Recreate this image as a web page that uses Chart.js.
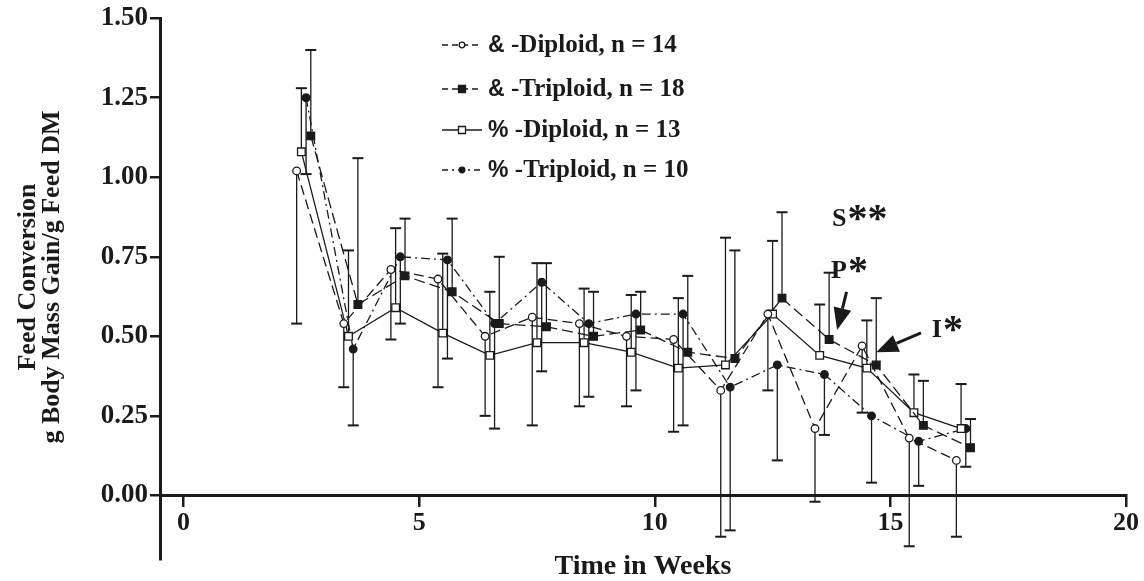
<!DOCTYPE html>
<html>
<head>
<meta charset="utf-8">
<script src="https://cdn.jsdelivr.net/npm/chart.js@4.4.0/dist/chart.umd.min.js"></script>
<style>
  html, body { margin: 0; padding: 0; background: #fff; }
</style>
</head>
<body>
<canvas id="chart" width="1144" height="581"></canvas>
<script>
'use strict';

// series labels (the & / % glyphs are what the original figure shows)
var seriesNames = ['& -Diploid, n = 14', '& -Triploid, n = 18', '% -Diploid, n = 13', '% -Triploid, n = 10'];

// time in weeks for each series (points are slightly staggered in the figure)
var weeksMaleDip = [2.4, 3.4, 4.4, 5.4, 6.4, 7.4, 8.4, 9.4, 10.4, 11.4, 12.4, 13.4, 14.4, 15.4, 16.4];
var weeksMaleTri = [2.7, 3.7, 4.7, 5.7, 6.7, 7.7, 8.7, 9.7, 10.7, 11.7, 12.7, 13.7, 14.7, 15.7, 16.7];
var weeksFemDip = [2.5, 3.5, 4.5, 5.5, 6.5, 7.5, 8.5, 9.5, 10.5, 11.5, 12.5, 13.5, 14.5, 15.5, 16.5];
var weeksFemTri = [2.6, 3.6, 4.6, 5.6, 6.6, 7.6, 8.6, 9.6, 10.6, 11.6, 12.6, 13.6, 14.6, 15.6, 16.6];

// feed conversion means
var maleDip = [1.02, 0.54, 0.71, 0.68, 0.50, 0.56, 0.54, 0.50, 0.49, 0.33, 0.57, 0.21, 0.47, 0.18, 0.11];
var maleTri = [1.13, 0.60, 0.69, 0.64, 0.54, 0.53, 0.50, 0.52, 0.45, 0.43, 0.62, 0.49, 0.41, 0.22, 0.15];
var femDip = [1.08, 0.50, 0.59, 0.51, 0.44, 0.48, 0.48, 0.45, 0.40, 0.41, 0.57, 0.44, 0.40, 0.26, 0.21];
var femTri = [1.25, 0.46, 0.75, 0.74, 0.54, 0.67, 0.54, 0.57, 0.57, 0.34, 0.41, 0.38, 0.25, 0.17, 0.21];

// one-sided error bars (circles drawn below, squares above)
var maleDipErr = [0.48, 0.20, 0.22, 0.34, 0.25, 0.34, 0.26, 0.22, 0.29, 0.46, 0.24, 0.23, 0.21, 0.34, 0.24];
var maleTriErr = [0.27, 0.46, 0.18, 0.23, 0.21, 0.20, 0.14, 0.12, 0.24, 0.34, 0.27, 0.21, 0.21, 0.14, 0.09];
var femDipErr = [0.20, 0.27, 0.25, 0.25, 0.20, 0.25, 0.17, 0.18, 0.22, 0.40, 0.23, 0.16, 0.15, 0.12, 0.14];
var femTriErr = [0.24, 0.24, 0.21, 0.31, 0.33, 0.28, 0.23, 0.24, 0.35, 0.45, 0.30, 0.19, 0.21, 0.14, 0.12];

// axis ticks
var xTicks = [0, 5, 10, 15, 20];
var yTicks = [0, 0.25, 0.5, 0.75, 1.0, 1.25, 1.5];

// significance notes: letter, stars, text anchor (weeks, value), arrow from -> to
var notes = [
  { letter: 'S', stars: '**', x: 13.76, y: 0.847, arrow: null },
  { letter: 'P', stars: '*', x: 13.74, y: 0.683, arrow: [14.07, 0.640, 13.87, 0.52] },
  { letter: 'I', stars: '*', x: 15.88, y: 0.497, arrow: [15.65, 0.511, 14.70, 0.45] }
];

var FONT = '"Liberation Serif", "Times New Roman", serif';
var INK = '#1a1a1a';

function points(xs, ys) {
  return xs.map(function (x, i) { return { x: x, y: ys[i] }; });
}

function makeSet(label, xs, ys, errs, dir, style, fill, dash, radius) {
  return {
    label: label,
    data: points(xs, ys),
    errors: errs,
    errDir: dir,
    borderColor: INK,
    borderWidth: 1.3,
    borderDash: dash,
    pointStyle: style,
    pointRadius: radius,
    pointBackgroundColor: fill,
    pointBorderColor: INK,
    pointBorderWidth: 1.3,
    tension: 0,
    fill: false
  };
}

var datasets = [
  makeSet(seriesNames[0], weeksMaleDip, maleDip, maleDipErr, -1, 'circle', '#fff', [10, 5], 3.8),
  makeSet(seriesNames[1], weeksMaleTri, maleTri, maleTriErr, 1, 'rect', INK, [11, 5], 5.4),
  makeSet(seriesNames[2], weeksFemDip, femDip, femDipErr, 1, 'rect', '#fff', [], 5.4),
  makeSet(seriesNames[3], weeksFemTri, femTri, femTriErr, -1, 'circle', INK, [9, 4, 2, 4], 3.8)
];

// error bars go under the markers
var errorBars = {
  id: 'errorBars',
  beforeDatasetsDraw: function (chart) {
    var ctx = chart.ctx;
    var xs = chart.scales.x;
    var ys = chart.scales.y;
    ctx.save();
    ctx.strokeStyle = INK;
    chart.data.datasets.forEach(function (ds) {
      ds.data.forEach(function (pt, i) {
        var px = xs.getPixelForValue(pt.x);
        var p0 = ys.getPixelForValue(pt.y);
        var p1 = ys.getPixelForValue(pt.y + ds.errDir * ds.errors[i]);
        ctx.lineWidth = 1.3;
        ctx.beginPath();
        ctx.moveTo(px, p0);
        ctx.lineTo(px, p1);
        ctx.stroke();
        ctx.lineWidth = 2;
        ctx.beginPath();
        ctx.moveTo(px - 5.5, p1);
        ctx.lineTo(px + 5.5, p1);
        ctx.stroke();
      });
    });
    ctx.restore();
  }
};

function drawArrow(ctx, x0, y0, x1, y1) {
  var ang = Math.atan2(y1 - y0, x1 - x0);
  var headLen = 22, headW = 9;
  var bx = x1 - headLen * Math.cos(ang);
  var by = y1 - headLen * Math.sin(ang);
  ctx.lineWidth = 3;
  ctx.beginPath();
  ctx.moveTo(x0, y0);
  ctx.lineTo(bx, by);
  ctx.stroke();
  ctx.beginPath();
  ctx.moveTo(x1, y1);
  ctx.lineTo(bx + headW * Math.sin(ang), by - headW * Math.cos(ang));
  ctx.lineTo(bx - headW * Math.sin(ang), by + headW * Math.cos(ang));
  ctx.closePath();
  ctx.fill();
}

// hand drawn legend, y title and the S/P/I notes
var extras = {
  id: 'extras',
  afterDraw: function (chart) {
    var ctx = chart.ctx;
    var xs = chart.scales.x;
    var ys = chart.scales.y;
    var rowY = [45, 89, 130, 170];
    ctx.save();

    chart.data.datasets.forEach(function (ds, i) {
      var y = rowY[i];
      ctx.strokeStyle = INK;
      ctx.lineWidth = 1.3;
      ctx.setLineDash(ds.borderDash.length ? [6, 4].concat(ds.borderDash.length > 2 ? [2, 4] : []) : []);
      ctx.beginPath();
      ctx.moveTo(442, y);
      ctx.lineTo(482, y);
      ctx.stroke();
      ctx.setLineDash([]);
      ctx.fillStyle = ds.pointBackgroundColor;
      ctx.beginPath();
      if (ds.pointStyle === 'circle') {
        ctx.arc(462, y, 2.8, 0, Math.PI * 2);
      } else {
        ctx.rect(458.5, y - 3.5, 7, 7);
      }
      ctx.fill();
      ctx.stroke();
      ctx.fillStyle = INK;
      ctx.textBaseline = 'middle';
      ctx.textAlign = 'left';
      var sym = ds.label.charAt(0);
      ctx.font = 'bold 23px "Liberation Sans", Arial, sans-serif';
      ctx.fillText(sym, 488, y + 1);
      var sw = ctx.measureText(sym + ' ').width;
      ctx.font = 'bold 25px ' + FONT;
      ctx.fillText(ds.label.slice(2), 488 + sw, y + 1);
    });

    // y axis title, two lines
    ctx.fillStyle = INK;
    ctx.font = 'bold 26px ' + FONT;
    ctx.textAlign = 'center';
    ctx.textBaseline = 'middle';
    ctx.translate(0, 277);
    ctx.rotate(-Math.PI / 2);
    ctx.fillText('Feed Conversion', 0, 28);
    ctx.fillText('g Body Mass Gain/g Feed DM', 0, 52);
    ctx.setTransform(1, 0, 0, 1, 0, 0);

    ctx.textAlign = 'left';
    ctx.strokeStyle = INK;
    notes.forEach(function (n) {
      var px = xs.getPixelForValue(n.x);
      var py = ys.getPixelForValue(n.y);
      ctx.textBaseline = 'alphabetic';
      ctx.font = 'bold 26px ' + FONT;
      ctx.fillText(n.letter, px, py);
      var w = ctx.measureText(n.letter).width;
      ctx.font = 'bold 40px ' + FONT;
      ctx.fillText(n.stars, px + w + 1, py + 5);
      if (n.arrow) {
        drawArrow(ctx,
          xs.getPixelForValue(n.arrow[0]), ys.getPixelForValue(n.arrow[1]),
          xs.getPixelForValue(n.arrow[2]), ys.getPixelForValue(n.arrow[3]));
      }
    });
    ctx.restore();
  }
};

var ctx = document.getElementById('chart').getContext('2d');
var chart = new Chart(ctx, {
  type: 'line',
  data: { datasets: datasets },
  plugins: [errorBars, extras],
  options: {
    responsive: false,
    animation: false,
    layout: { padding: { left: 0, right: 18, top: 17, bottom: 22 } },
    plugins: {
      legend: { display: false },
      tooltip: { enabled: false }
    },
    scales: {
      x: {
        type: 'linear',
        position: { y: 0 },
        min: -0.5,
        max: 20,
        afterBuildTicks: function (scale) {
          scale.ticks = xTicks.map(function (v) { return { value: v }; });
        },
        ticks: {
          color: INK,
          font: { family: FONT, size: 26, weight: 'bold' },
          padding: 2,
          maxRotation: 0
        },
        grid: { drawOnChartArea: false, color: INK, lineWidth: 2.5, tickLength: 10 },
        border: { color: INK, width: 3 },
        title: {
          display: true,
          text: 'Time in Weeks',
          color: INK,
          font: { family: FONT, size: 28, weight: 'bold' },
          padding: { top: 9, bottom: 0 }
        }
      },
      y: {
        type: 'linear',
        min: -0.2,
        max: 1.5,
        afterBuildTicks: function (scale) {
          scale.ticks = yTicks.map(function (v) { return { value: v }; });
        },
        afterFit: function (scale) {
          scale.width = 160;
        },
        ticks: {
          color: INK,
          font: { family: FONT, size: 27, weight: 'bold' },
          padding: 2,
          callback: function (v) { return v.toFixed(2); }
        },
        grid: { drawOnChartArea: false, color: INK, lineWidth: 2.5, tickLength: 10 },
        border: { color: INK, width: 3 }
      }
    }
  }
});
</script>
</body>
</html>
